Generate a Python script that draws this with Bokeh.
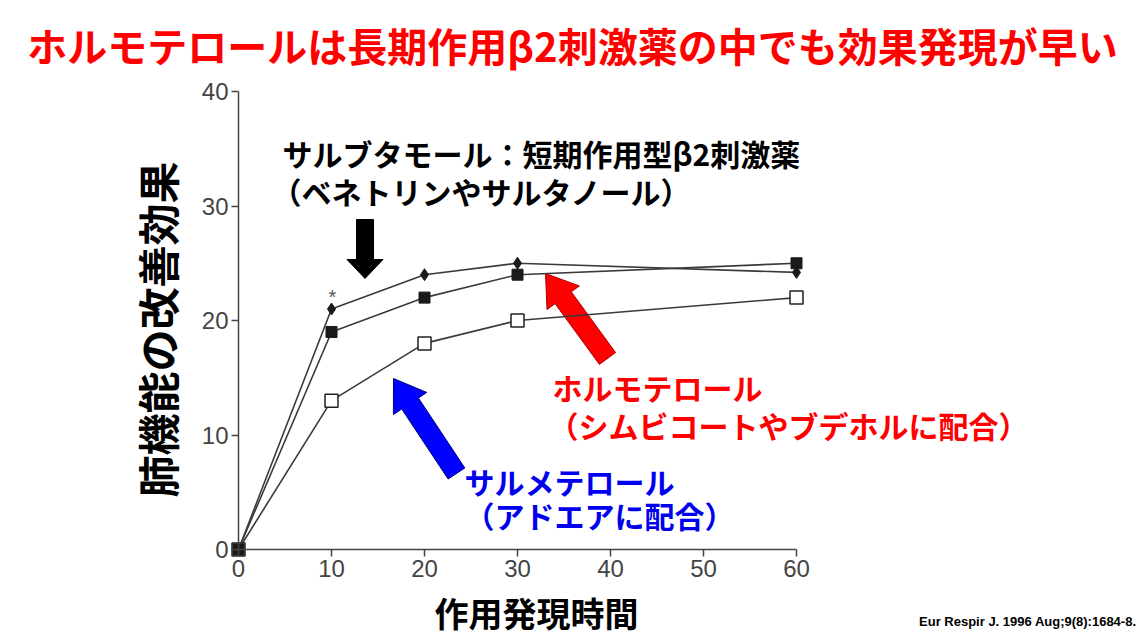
import math
from bokeh.plotting import figure
from bokeh.models import Range1d, Label, FixedTicker
from bokeh.embed import file_html
from bokeh.resources import INLINE

# ---- data ----
times = [0, 10, 20, 30, 60]
salbutamol = [0, 21, 24, 25, 24.2]     # filled diamonds
formoterol = [0, 19, 22, 24, 25]       # filled squares
salmeterol = [0, 13, 18, 20, 22]       # open squares
x_ticks = [0, 10, 20, 30, 40, 50, 60]
y_ticks = [0, 10, 20, 30, 40]

title_text = "ホルモテロールは長期作用β2刺激薬の中でも効果発現が早い"
y_label = "肺機能の改善効果"
x_label = "作用発現時間"
citation = "Eur Respir J. 1996 Aug;9(8):1684-8."

# ---- layout: frame fills the whole canvas, axes are placed at data 0 ----
W, H = 1140, 640
PAGE = 0
SX = (796 - 238) / 60.0      # px per x unit
SY = (549 - 91) / 40.0       # px per y unit
XR = (-(238 - PAGE) / SX, -(238 - PAGE) / SX + W / SX)
YR = ((549 - PAGE) / SY - H / SY, (549 - PAGE) / SY)


def dx(px):
    return XR[0] + (px - PAGE) / SX


def dy(py):
    return YR[1] - (py - PAGE) / SY


p = figure(width=W, height=H, x_range=Range1d(*XR), y_range=Range1d(*YR),
           output_backend="svg", toolbar_location=None,
           min_border=0, min_border_left=0, min_border_right=0,
           min_border_top=0, min_border_bottom=0)
p.outline_line_color = None
p.grid.visible = False
p.background_fill_color = "white"

for ax, ticks, bnd in ((p.xaxis[0], x_ticks, (0, 60)), (p.yaxis[0], y_ticks, (0, 40))):
    ax.ticker = FixedTicker(ticks=ticks)
    ax.fixed_location = 0
    ax.bounds = bnd
    ax.axis_line_color = "#444444"
    ax.axis_line_width = 1.5
    ax.major_tick_line_color = "#444444"
    ax.major_tick_line_width = 1.5
    ax.major_tick_out = 7
    ax.major_tick_in = 0
    ax.minor_tick_out = 0
    ax.minor_tick_in = 0
    ax.major_label_text_font = "Liberation Sans"
    ax.major_label_text_font_size = "24px"
    ax.major_label_text_color = "#444444"
    ax.major_label_standoff = 3

# ---- arrows (annotation shapes, pixel geometry) ----
def arrow(tail, tip, sw, hw, hl, fill, edge):
    tx, ty = tail
    hx, hy = tip
    L = math.hypot(hx - tx, hy - ty)
    ux, uy = (hx - tx) / L, (hy - ty) / L
    nx, ny = -uy, ux
    bx, by = hx - ux * hl, hy - uy * hl
    pts = [
        (tx + nx * sw / 2, ty + ny * sw / 2),
        (bx + nx * sw / 2, by + ny * sw / 2),
        (bx + nx * hw / 2, by + ny * hw / 2),
        (hx, hy),
        (bx - nx * hw / 2, by - ny * hw / 2),
        (bx - nx * sw / 2, by - ny * sw / 2),
        (tx - nx * sw / 2, ty - ny * sw / 2),
    ]
    p.patch([dx(a) for a, b in pts], [dy(b) for a, b in pts],
            fill_color=fill, line_color=edge, line_width=1)

arrow((364.5, 219), (364.5, 278), 17, 36, 19, "black", "black")
arrow((607, 358), (545, 273), 20, 40, 30, "#ff0000", "#b00000")
arrow((456, 473), (393, 378), 20, 40, 30, "#0000ff", "#00007a")

# ---- series ----
line_kw = dict(line_color="#3a3a3a", line_width=1.6)
p.line(times, salbutamol, **line_kw)
p.line(times, formoterol, **line_kw)
p.line(times, salmeterol, **line_kw)
p.scatter(times, salmeterol, marker="square", size=13, fill_color="white",
          line_color="#222222", line_width=1.5)
p.scatter(times, formoterol, marker="square", size=11, fill_color="#1a1a1a",
          line_color="#1a1a1a")
p.scatter(times, salbutamol, marker="diamond", size=12, fill_color="#1a1a1a",
          line_color="#1a1a1a")

# ---- texts ----
JP = "Noto Sans CJK JP"


def label(text, px, py, size, color, weight="normal", align="left", angle=0, font=JP):
    p.add_layout(Label(x=dx(px), y=dy(py), text=text, text_font=font,
                       text_font_size=size, text_color=color,
                       text_font_style=weight, text_align=align,
                       text_baseline="middle", angle=angle))

label("*", 332, 296, "20px", "#555555", align="center", font="Liberation Sans")
label(title_text, 572, 44, "40px", "#ff0000", "bold", "center")
label(y_label, 156, 329, "42px", "black", "bold", "center", angle=math.pi / 2)
label(x_label, 536, 612, "34px", "black", "bold", "center")
label(citation, 1136, 621, "13px", "black", "bold", "right", font="Liberation Sans")

label("サルブタモール：短期作用型β2刺激薬", 282, 152, "30px", "black", "bold")
label("（ベネトリンやサルタノール）", 271, 190, "30px", "black", "bold")
label("ホルモテロール", 552, 386, "30px", "#ff0000", "bold")
label("（シムビコートやブデホルに配合）", 548, 424, "30px", "#ff0000", "bold")
label("サルメテロール", 464, 480, "30px", "#0000ee", "bold")
label("（アドエアに配合）", 464, 514, "30px", "#0000ee", "bold")

open("out.html", "w").write(file_html(p, INLINE))
